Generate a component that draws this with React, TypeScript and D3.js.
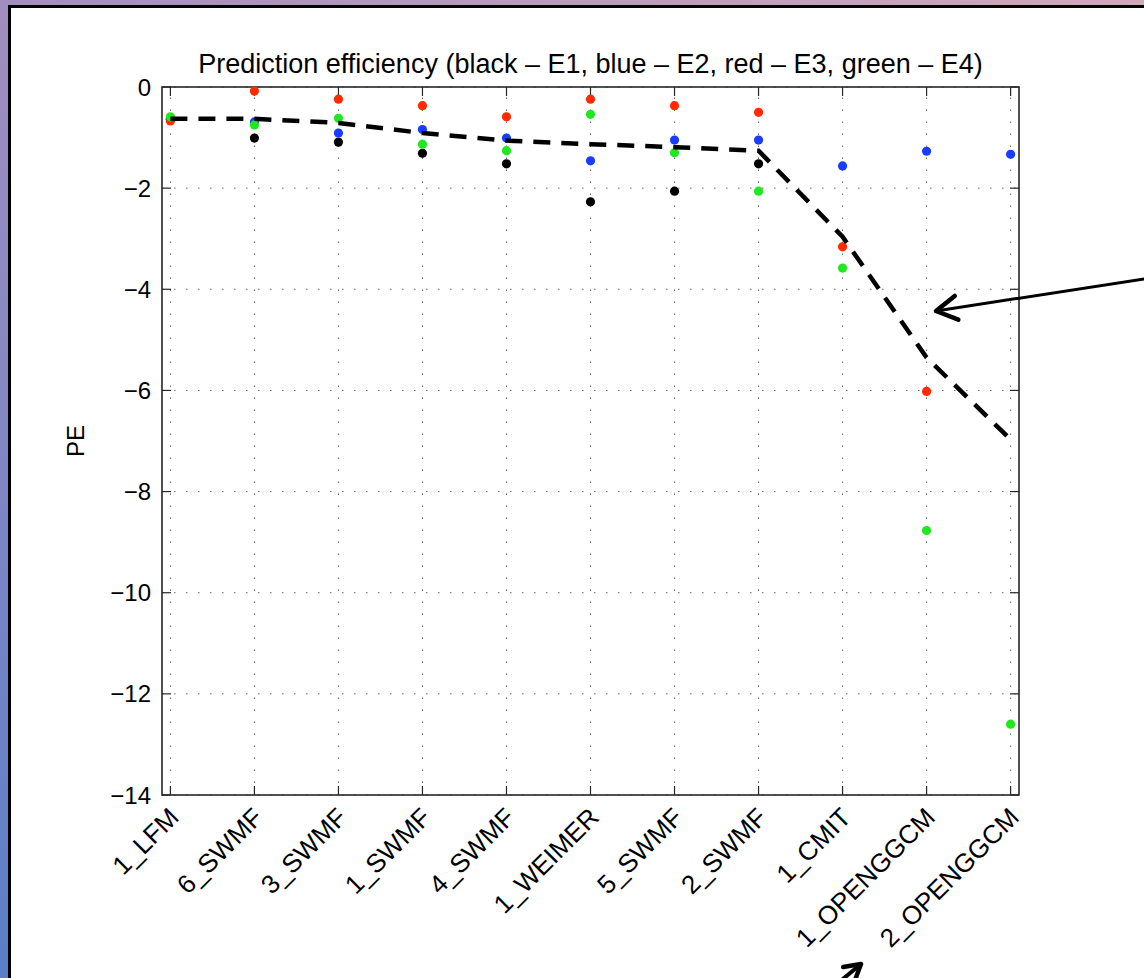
import React from 'react';
import * as d3 from 'd3';

// model runs along the x axis
const models = ['1_LFM', '6_SWMF', '3_SWMF', '1_SWMF', '4_SWMF', '1_WEIMER', '5_SWMF', '2_SWMF', '1_CMIT', '1_OPENGGCM', '2_OPENGGCM'];

// prediction efficiency per event (null = no run)
const e1 = [-0.64, -1.01, -1.09, -1.31, -1.52, -2.27, -2.06, -1.52, null, null, null];
const e2 = [-0.62, -0.69, -0.91, -0.84, -1.01, -1.46, -1.05, -1.05, -1.56, -1.27, -1.33];
const e3 = [-0.67, -0.08, -0.24, -0.37, -0.59, -0.24, -0.37, -0.50, -3.16, -6.02, null];
const e4 = [-0.59, -0.75, -0.62, -1.13, -1.26, -0.54, -1.30, -2.06, -3.58, -8.77, -12.60];
// mean over events (dashed line)
const meanPE = [-0.63, -0.63, -0.71, -0.91, -1.06, -1.13, -1.19, -1.26, -2.96, -5.35, -6.97];

const yTicks = [0, -2, -4, -6, -8, -10, -12, -14];

const series = [
  { vals: e1, color: '#000000' },
  { vals: e2, color: '#1a3cff' },
  { vals: e3, color: '#ff2a00' },
  { vals: e4, color: '#1ee81e' },
];

const W = 1144, H = 978;
const m = { left: 162, right: 1019, top: 87, bottom: 795 };
const FONT = '"Liberation Sans", Arial, Helvetica, sans-serif';

function arrowHead(x1: number, y1: number, x2: number, y2: number, len: number) {
  const a = Math.atan2(y2 - y1, x2 - x1);
  const s = Math.PI / 6;
  const p1 = [x2 - len * Math.cos(a - s), y2 - len * Math.sin(a - s)];
  const p2 = [x2 - len * Math.cos(a + s), y2 - len * Math.sin(a + s)];
  return `M${p1[0]},${p1[1]}L${x2},${y2}L${p2[0]},${p2[1]}`;
}

export default function App() {
  const x = d3.scaleLinear().domain([0.9, 11.1]).range([m.left, m.right]);
  const y = d3.scaleLinear().domain([-14, 0]).range([m.bottom, m.top]);

  const line = d3.line<number>()
    .x((d, i) => x(i + 1))
    .y(d => y(d));

  return (
    <svg width={W} height={H} style={{ position: 'absolute', left: 0, top: 0 }}>
      <defs>
        <linearGradient id="bg" x1="1" y1="0" x2="0" y2="1">
          <stop offset="0" stopColor="#d2a8ba" />
          <stop offset="0.5" stopColor="#a28ebe" />
          <stop offset="1" stopColor="#5a7ec8" />
        </linearGradient>
      </defs>
      <rect x={0} y={0} width={W} height={H} fill="url(#bg)" />
      <rect x={9.5} y={6.5} width={W + 20} height={H + 20} fill="#fff" stroke="#000" strokeWidth={3} />

      {/* grid */}
      <g stroke="#666" strokeWidth={1} strokeDasharray="1.5,10.5">
        {models.map((_, i) => (
          <line key={'gx' + i} x1={x(i + 1)} x2={x(i + 1)} y1={m.bottom} y2={m.top} />
        ))}
        {yTicks.map(t => (
          <line key={'gy' + t} x1={m.left} x2={m.right} y1={y(t)} y2={y(t)} />
        ))}
      </g>

      {/* ticks */}
      <g stroke="#262626" strokeWidth={1.2}>
        {models.map((_, i) => (
          <g key={'tx' + i}>
            <line x1={x(i + 1)} x2={x(i + 1)} y1={m.bottom} y2={m.bottom - 9} />
            <line x1={x(i + 1)} x2={x(i + 1)} y1={m.top} y2={m.top + 9} />
          </g>
        ))}
        {yTicks.map(t => (
          <g key={'ty' + t}>
            <line x1={m.left} x2={m.left + 9} y1={y(t)} y2={y(t)} />
            <line x1={m.right} x2={m.right - 9} y1={y(t)} y2={y(t)} />
          </g>
        ))}
      </g>
      <rect x={m.left} y={m.top} width={m.right - m.left} height={m.bottom - m.top}
        fill="none" stroke="#262626" strokeWidth={1.6} />

      {/* points */}
      {series.map((s, si) => (
        <g key={'s' + si} fill={s.color}>
          {s.vals.map((v, i) => v === null ? null : (
            <circle key={i} cx={x(i + 1)} cy={y(v)} r={4.6} />
          ))}
        </g>
      ))}

      {/* mean line */}
      <path d={line(meanPE) || ''} fill="none" stroke="#000" strokeWidth={4.5} strokeDasharray="17,11" />

      {/* labels */}
      <g fontFamily={FONT} fill="#000">
        <text x={(m.left + m.right) / 2} y={73} textAnchor="middle" fontSize={27}>
          Prediction efficiency (black – E1, blue – E2, red – E3, green – E4)
        </text>
        {yTicks.map(t => (
          <text key={'yl' + t} x={m.left - 11} y={y(t)} dy="0.36em" textAnchor="end" fontSize={24}>
            {t === 0 ? '0' : '\u2212' + Math.abs(t)}
          </text>
        ))}
        <text transform={`translate(84,${(m.top + m.bottom) / 2}) rotate(-90)`} textAnchor="middle" fontSize={24}>PE</text>
        {models.map((name, i) => (
          <text key={'xl' + i} transform={`translate(${x(i + 1) + 10},${m.bottom + 24}) rotate(-45)`}
            textAnchor="end" fontSize={26}>
            {name}
          </text>
        ))}
      </g>

      {/* annotation arrows */}
      <g stroke="#000" fill="none" strokeLinecap="round" strokeLinejoin="round">
        <line x1={1150} y1={278} x2={936} y2={311} strokeWidth={3} />
        <path d={arrowHead(1150, 278, 936, 311, 24)} strokeWidth={4.5} />
        <line x1={832} y1={988} x2={861} y2={964} strokeWidth={4} />
        <path d={arrowHead(832, 988, 861, 964, 18)} strokeWidth={4.5} />
      </g>
    </svg>
  );
}
